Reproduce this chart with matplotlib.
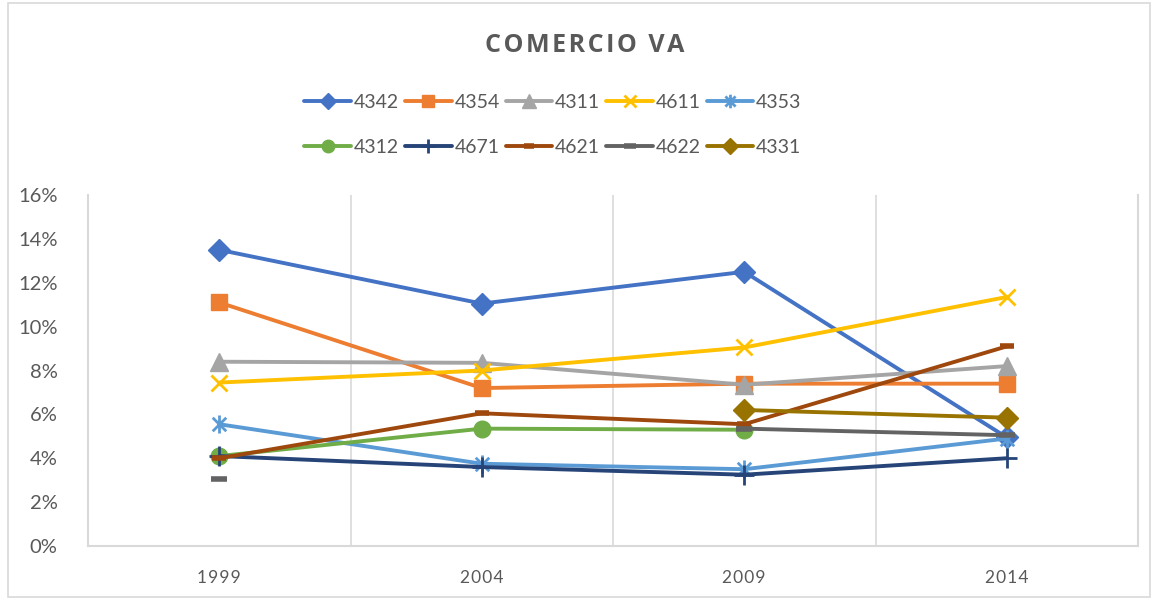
import numpy as np
import matplotlib
matplotlib.use("Agg")
import matplotlib.pyplot as plt
from matplotlib.path import Path
from matplotlib.patches import Rectangle
from matplotlib.ticker import FuncFormatter

plt.rcParams['font.family'] = ['Lato', 'DejaVu Sans']

years = ["1999", "2004", "2009", "2014"]
nan = np.nan
series_names = ["4342", "4354", "4311", "4611", "4353", "4312", "4671", "4621", "4622", "4331"]
v4342 = [13.5, 11.05, 12.5, 4.95]
v4354 = [11.1, 7.2, 7.4, 7.4]
v4311 = [8.4, 8.35, 7.35, 8.2]
v4611 = [7.45, 8.0, 9.05, 11.35]
v4353 = [5.55, 3.75, 3.5, 4.9]
v4312 = [4.1, 5.35, 5.3, nan]
v4671 = [4.1, 3.6, 3.25, 4.0]
v4621 = [4.0, 6.05, 5.55, 9.1]
v4622 = [3.05, nan, 5.35, 5.05]
v4331 = [nan, nan, 6.2, 5.85]
values = [v4342, v4354, v4311, v4611, v4353, v4312, v4671, v4621, v4622, v4331]
colors = ["#4472C4", "#ED7D31", "#A5A5A5", "#FFC000", "#5B9BD5",
          "#70AD47", "#264478", "#9E480E", "#636363", "#997300"]

star = Path([(0, -1), (0, 1), (-0.75, -0.75), (0.75, 0.75), (-0.75, 0.75), (0.75, -0.75)],
            [Path.MOVETO, Path.LINETO, Path.MOVETO, Path.LINETO, Path.MOVETO, Path.LINETO])

styles = [
    dict(marker='D', ms=11),
    dict(marker='s', ms=12),
    dict(marker='^', ms=13),
    dict(marker='x', ms=12, mew=2),
    dict(marker=star, ms=13, mew=2, mfc='none'),
    dict(marker='o', ms=12),
    dict(marker='+', ms=14, mew=2),
    dict(marker='_', ms=10, mew=4),
    dict(marker='_', ms=12, mew=4),
    dict(marker='D', ms=11),
]

W, H = 1157, 600
fig = plt.figure(figsize=(W / 100, H / 100), dpi=100)
ax = fig.add_axes([88 / W, 1 - 546 / H, (1138 - 88) / W, (546 - 195) / H])

x = np.arange(len(years))
for name, vals, c, st in zip(series_names, values, colors, styles):
    ax.plot(x, np.array(vals) / 100, color=c, lw=2.8, mec=c, mfc=st.pop('mfc', c),
            label=name, solid_capstyle='round', **st)

ax.set_xlim(-0.5, 3.5)
ax.set_ylim(0, 0.16)
ax.set_yticks(np.arange(0, 0.161, 0.02))
ax.yaxis.set_major_formatter(FuncFormatter(lambda v, p: f"{v*100:.0f}%"))
ax.set_xticks(x)
ax.set_xticklabels(["\u200a".join(y) for y in years], fontsize=12.5)
for gx in [0.5, 1.5, 2.5]:
    ax.axvline(gx, color="#D9D9D9", lw=1.2, zorder=0)
ax.tick_params(axis='both', length=0, colors="#595959")
ax.tick_params(axis='y', pad=22, labelsize=14.5)
ax.tick_params(axis='x', pad=17)
for s in ['left', 'right', 'bottom']:
    ax.spines[s].set_color("#D9D9D9")
    ax.spines[s].set_linewidth(1.5)
ax.spines['top'].set_visible(False)

fig.text(585 / W, 1 - 45 / H, "\u200a".join("COMERCIO VA"), ha='center', va='center', fontsize=18,
         fontweight='bold', color="#595959", family=['Open Sans', 'DejaVu Sans'])

handles, labels = ax.get_legend_handles_labels()
order = [0, 5, 1, 6, 2, 7, 3, 8, 4, 9]
leg = fig.legend([handles[i] for i in order], [labels[i] for i in order], loc='center',
                 bbox_to_anchor=(553 / W, 1 - 125 / H),
                 ncol=5, frameon=False, fontsize=14, handlelength=2.4, handletextpad=0.15,
                 columnspacing=0.3, labelspacing=1.42, borderaxespad=0, borderpad=0,
                 markerscale=0.75)
for t in leg.get_texts():
    t.set_color("#595959")

fig.patches.append(Rectangle((8 / W, 3 / H), (1150 - 8) / W, (597 - 3) / H,
                             transform=fig.transFigure, fill=False, ec="#D9D9D9", lw=1.2))

fig.savefig("out.png", dpi=100)
